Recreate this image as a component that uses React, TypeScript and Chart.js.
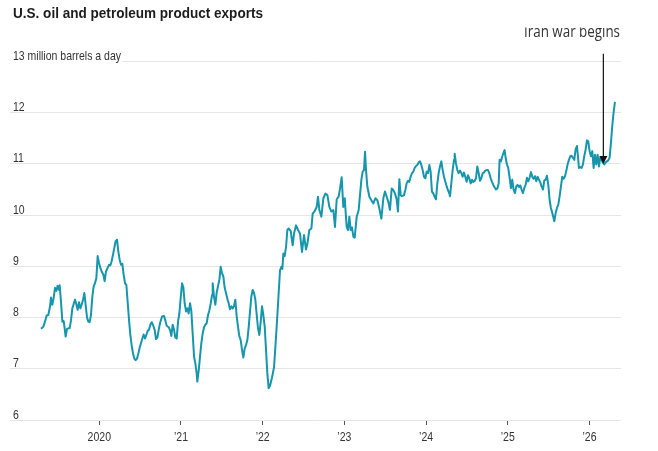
import React, { useEffect, useRef } from 'react';
import { Chart, registerables } from 'chart.js';

Chart.register(...registerables);

const chartTitle = 'U.S. oil and petroleum product exports';
const unitLabel = '13 million barrels a day';
const yTickValues = [6, 7, 8, 9, 10, 11, 12, 13];
const xTickYears = [2020, 2021, 2022, 2023, 2024, 2025, 2026];
const xTickLabels = ['2020', '\u201921', '\u201922', '\u201923', '\u201924', '\u201925', '\u201926'];
const annotationText = 'Iran war begins';
const annotationDate = 2026.17;
const annotationTipValue = 11.0;
const annotationTopValue = 13.15;
const xAxisMin = 2018.907;
const xAxisMax = 2026.386;

// weekly observations (decimal year)
const weekDates = [
  2019.286, 2019.315, 2019.335, 2019.356, 2019.376, 2019.397, 2019.409, 2019.425, 2019.441, 2019.458,
  2019.474, 2019.490, 2019.507, 2019.515, 2019.531, 2019.548, 2019.564, 2019.576, 2019.588, 2019.605,
  2019.621, 2019.637, 2019.654, 2019.670, 2019.686, 2019.703, 2019.719, 2019.735, 2019.752, 2019.768,
  2019.784, 2019.801, 2019.817, 2019.833, 2019.850, 2019.866, 2019.882, 2019.898, 2019.915, 2019.931,
  2019.947, 2019.964, 2019.980, 2019.996, 2020.013, 2020.029, 2020.049, 2020.066, 2020.082, 2020.102,
  2020.119, 2020.135, 2020.151, 2020.168, 2020.184, 2020.200, 2020.217, 2020.233, 2020.249, 2020.266,
  2020.282, 2020.298, 2020.315, 2020.331, 2020.347, 2020.364, 2020.380, 2020.396, 2020.413, 2020.429,
  2020.445, 2020.462, 2020.478, 2020.494, 2020.510, 2020.527, 2020.543, 2020.559, 2020.576, 2020.592,
  2020.608, 2020.625, 2020.641, 2020.657,
  2020.678, 2020.694, 2020.711, 2020.727, 2020.743, 2020.768, 2020.792, 2020.809, 2020.825, 2020.849,
  2020.866, 2020.882, 2020.898, 2020.915, 2020.931, 2020.947, 2020.964, 2020.980, 2020.996, 2021.013,
  2021.029, 2021.045, 2021.062, 2021.078, 2021.094, 2021.111, 2021.127, 2021.143, 2021.160, 2021.176,
  2021.192, 2021.200, 2021.217, 2021.233, 2021.249, 2021.266, 2021.282, 2021.298, 2021.315, 2021.331,
  2021.347, 2021.364, 2021.380, 2021.388, 2021.404, 2021.421, 2021.437, 2021.453, 2021.470, 2021.486,
  2021.502, 2021.519, 2021.535, 2021.551, 2021.568, 2021.584, 2021.600, 2021.617, 2021.633, 2021.649,
  2021.665, 2021.682, 2021.698, 2021.714, 2021.731, 2021.747, 2021.763, 2021.780, 2021.796, 2021.812,
  2021.829, 2021.845, 2021.861, 2021.878, 2021.894, 2021.910, 2021.927, 2021.943, 2021.959, 2021.976,
  2021.992, 2022.008, 2022.025, 2022.041, 2022.057, 2022.073,
  2022.090, 2022.114, 2022.139, 2022.163, 2022.188, 2022.212, 2022.229, 2022.241, 2022.253, 2022.269,
  2022.286, 2022.302, 2022.318, 2022.343, 2022.367, 2022.384, 2022.408, 2022.433, 2022.457, 2022.481,
  2022.506, 2022.530, 2022.547, 2022.571, 2022.596, 2022.612, 2022.637, 2022.661, 2022.677, 2022.694,
  2022.718, 2022.743, 2022.767, 2022.792, 2022.816, 2022.841, 2022.865, 2022.885, 2022.906, 2022.930,
  2022.947, 2022.967, 2022.987, 2023.004, 2023.028, 2023.045, 2023.061, 2023.077, 2023.093, 2023.110,
  2023.126, 2023.151, 2023.175, 2023.191, 2023.208, 2023.224, 2023.240, 2023.253, 2023.265, 2023.281,
  2023.306, 2023.330, 2023.355, 2023.379, 2023.404, 2023.428, 2023.453,
  2023.477, 2023.497, 2023.518, 2023.538, 2023.558, 2023.579, 2023.599, 2023.620, 2023.640, 2023.656,
  2023.673, 2023.689, 2023.705, 2023.730, 2023.746, 2023.762, 2023.779, 2023.795, 2023.811, 2023.828,
  2023.844, 2023.860, 2023.877, 2023.893, 2023.909, 2023.926, 2023.942, 2023.958, 2023.975, 2023.991,
  2024.007, 2024.024, 2024.040, 2024.056, 2024.072, 2024.089, 2024.105, 2024.121, 2024.138, 2024.154,
  2024.170, 2024.187, 2024.203, 2024.219, 2024.236, 2024.252, 2024.268, 2024.285, 2024.293, 2024.309,
  2024.325, 2024.342, 2024.350, 2024.366, 2024.383, 2024.399, 2024.415, 2024.432, 2024.448, 2024.464,
  2024.480, 2024.497, 2024.513, 2024.529, 2024.546, 2024.562, 2024.578, 2024.595, 2024.611, 2024.627,
  2024.644, 2024.660, 2024.676, 2024.693, 2024.709, 2024.725, 2024.742, 2024.758, 2024.774, 2024.791,
  2024.807, 2024.823, 2024.840, 2024.856, 2024.872, 2024.889,
  2024.900, 2024.916, 2024.933, 2024.949, 2024.961, 2024.974, 2024.990, 2025.006, 2025.023, 2025.039,
  2025.055, 2025.071, 2025.088, 2025.104, 2025.120, 2025.137, 2025.153, 2025.169, 2025.186, 2025.202,
  2025.218, 2025.235, 2025.251, 2025.267, 2025.284, 2025.300, 2025.316, 2025.333, 2025.349, 2025.365,
  2025.382, 2025.398, 2025.414, 2025.431, 2025.447, 2025.463, 2025.479, 2025.496, 2025.512, 2025.528,
  2025.545, 2025.561, 2025.569, 2025.586, 2025.602, 2025.618, 2025.635, 2025.651, 2025.667, 2025.683,
  2025.700, 2025.716, 2025.732, 2025.749, 2025.765, 2025.781, 2025.798, 2025.814, 2025.830, 2025.847,
  2025.859, 2025.871, 2025.887, 2025.904, 2025.920, 2025.936, 2025.953, 2025.969, 2025.985, 2026.002,
  2026.018, 2026.034, 2026.051, 2026.067, 2026.083, 2026.100, 2026.116, 2026.132, 2026.149, 2026.165,
  2026.181, 2026.198, 2026.214, 2026.230, 2026.246, 2026.263, 2026.279, 2026.295, 2026.312,
];

// million barrels a day
const exportsMbd = [
  7.78, 7.82, 7.92, 8.04, 8.05, 8.22, 8.39, 8.25, 8.38, 8.58,
  8.52, 8.62, 8.54, 8.63, 8.31, 7.92, 7.93, 7.79, 7.63, 7.78,
  7.79, 7.79, 7.95, 8.18, 8.26, 8.35, 8.26, 8.15, 8.30, 8.18,
  8.25, 8.35, 8.48, 8.25, 8.00, 7.92, 7.91, 8.05, 8.41, 8.61,
  8.67, 8.77, 9.20, 9.07, 8.97, 8.90, 8.84, 8.71, 8.90, 8.97,
  9.03, 9.02, 9.10, 9.23, 9.36, 9.49, 9.52, 9.29, 9.13, 9.03,
  9.05, 8.84, 8.67, 8.64, 8.31, 7.95, 7.66, 7.46, 7.30, 7.20,
  7.17, 7.20, 7.30, 7.41, 7.50, 7.59, 7.67, 7.59, 7.66, 7.74,
  7.76, 7.86, 7.91, 7.86,
  7.76, 7.58, 7.61, 7.76, 7.89, 8.02, 8.03, 7.94, 7.84, 7.81,
  7.76, 7.64, 7.86, 7.76, 7.61, 7.59, 7.92, 8.08, 8.38, 8.67,
  8.59, 8.28, 8.12, 8.18, 8.08, 8.28, 8.12, 7.69, 7.24, 7.10,
  6.91, 6.75, 6.97, 7.24, 7.50, 7.69, 7.81, 7.86, 7.89, 8.05,
  8.14, 8.28, 8.44, 8.67, 8.41, 8.25, 8.49, 8.61, 8.74, 8.99,
  8.87, 8.80, 8.58, 8.48, 8.36, 8.28, 8.16, 8.22, 8.18, 8.22,
  8.35, 8.02, 7.82, 7.64, 7.56, 7.37, 7.22, 7.40, 7.46, 7.56,
  7.82, 8.12, 8.41, 8.54, 8.48, 8.35, 8.05, 7.79, 7.66, 7.92,
  8.22, 8.05, 7.82, 7.37, 6.91, 6.62,
  6.67, 6.83, 7.03, 7.61, 8.27, 8.92, 8.99, 8.95, 9.25, 9.20,
  9.38, 9.71, 9.74, 9.69, 9.41, 9.64, 9.80, 9.71, 9.64, 9.28,
  9.61, 9.33, 9.44, 9.71, 9.74, 10.03, 10.08, 10.16, 10.36, 10.10,
  9.97, 10.33, 10.42, 10.39, 10.16, 10.07, 10.10, 9.77, 10.31, 10.36,
  10.52, 10.74, 10.16, 10.33, 9.77, 9.71, 9.97, 9.71, 9.76, 9.58,
  9.56, 9.97, 10.10, 10.39, 10.69, 10.85, 10.88, 11.24, 10.88, 10.56,
  10.36, 10.29, 10.23, 10.33, 10.29, 10.13, 9.93,
  10.33, 10.46, 10.36, 10.26, 10.10, 10.52, 10.49, 10.42, 10.31, 10.07,
  10.70, 10.39, 10.37, 10.39, 10.49, 10.62, 10.67, 10.65, 10.75, 10.82,
  10.85, 10.92, 10.96, 10.98, 11.03, 11.05, 10.98, 10.88, 10.75, 10.72,
  10.85, 10.82, 10.98, 10.85, 10.46, 10.42, 10.36, 10.31, 10.62, 10.82,
  10.95, 11.05, 10.88, 10.75, 10.65, 10.56, 10.49, 10.42, 10.37, 10.62,
  10.88, 11.08, 11.20, 11.01, 10.88, 10.82, 10.87, 10.82, 10.75, 10.83,
  10.75, 10.65, 10.78, 10.72, 10.62, 10.69, 10.65, 10.67, 10.72, 10.95,
  10.82, 10.67, 10.72, 10.82, 10.83, 10.87, 10.88, 10.88, 10.82, 10.72,
  10.65, 10.59, 10.54, 10.50, 10.52, 10.62,
  11.08, 11.05, 11.15, 11.22, 11.27, 11.12, 10.99, 10.92, 10.73, 10.53,
  10.69, 10.50, 10.43, 10.56, 10.59, 10.55, 10.58, 10.50, 10.43, 10.53,
  10.59, 10.73, 10.66, 10.73, 10.84, 10.75, 10.71, 10.76, 10.66, 10.75,
  10.69, 10.64, 10.56, 10.50, 10.68, 10.69, 10.77, 10.59, 10.30, 10.14,
  10.04, 9.94, 9.88, 10.04, 10.14, 10.20, 10.37, 10.56, 10.75, 10.71,
  10.76, 10.86, 10.99, 11.08, 11.15, 11.16, 11.12, 11.08, 11.28, 11.35,
  11.15, 10.92, 10.94, 10.92, 10.99, 11.15, 11.28, 11.46, 11.44, 11.25,
  11.15, 11.25, 10.92, 11.18, 10.99, 11.18, 10.95, 11.12, 11.08, 11.02,
  10.99, 11.03, 11.05, 11.07, 11.12, 11.41, 11.74, 12.00, 12.21,
];

const SANS = '"Liberation Sans", Arial, Helvetica, sans-serif';

function drawScaled(
  ctx: CanvasRenderingContext2D,
  text: string,
  x: number,
  y: number,
  font: string,
  color: string,
  scaleX: number,
  align: 'left' | 'right' | 'center',
) {
  ctx.save();
  ctx.font = font;
  ctx.fillStyle = color;
  ctx.textAlign = 'left';
  ctx.textBaseline = 'alphabetic';
  const w = ctx.measureText(text).width * scaleX;
  const left = align === 'left' ? x : align === 'right' ? x - w : x - w / 2;
  ctx.translate(left, y);
  ctx.scale(scaleX, 1);
  ctx.fillText(text, 0, 0);
  ctx.restore();
  return w;
}

function fitScale(ctx: CanvasRenderingContext2D, text: string, font: string, target: number) {
  ctx.save();
  ctx.font = font;
  const w = ctx.measureText(text).width;
  ctx.restore();
  return w > 0 ? target / w : 1;
}

const overlayPlugin = {
  id: 'overlay',
  afterDraw(chart: any) {
    const { ctx, scales, width } = chart;
    const xs = scales.x;
    const ys = scales.y;
    const labelFont = `13px ${SANS}`;
    const labelColor = '#333';
    const labelScale = fitScale(ctx, unitLabel, labelFont, 108);

    // title
    const titleFont = `bold 15px ${SANS}`;
    drawScaled(ctx, chartTitle, 13, 17.5, titleFont, '#1c1c1c', fitScale(ctx, chartTitle, titleFont, 250), 'left');

    // y labels above grid lines
    for (const v of yTickValues) {
      const py = ys.getPixelForValue(v);
      const txt = v === 13 ? unitLabel : String(v);
      if (v === 13) {
        ctx.save();
        ctx.fillStyle = '#ffffff';
        const w = 108;
        ctx.fillRect(xs.left - 2, py - 14, 13 + w + 1 - (xs.left - 2), 16);
        ctx.restore();
      }
      drawScaled(ctx, txt, 13, py - 1.5, labelFont, labelColor, labelScale, 'left');
    }

    // x labels
    xTickYears.forEach((yr, i) => {
      const px = xs.getPixelForValue(yr);
      drawScaled(ctx, xTickLabels[i], px, ys.bottom + 21, labelFont, labelColor, labelScale, 'center');
    });

    // annotation text (top slightly cropped as in source)
    const annFont = `16px "Open Sans", ${SANS}`;
    ctx.save();
    ctx.beginPath();
    ctx.rect(0, 27.5, width, 40);
    ctx.clip();
    drawScaled(ctx, annotationText, 620, 37, annFont, '#333', fitScale(ctx, annotationText, annFont, 96), 'right');
    ctx.restore();

    // arrow
    const ax = xs.getPixelForValue(annotationDate);
    const yTop = ys.getPixelForValue(annotationTopValue);
    const yTip = ys.getPixelForValue(annotationTipValue);
    ctx.save();
    ctx.strokeStyle = '#111';
    ctx.lineWidth = 1.2;
    ctx.beginPath();
    ctx.moveTo(ax, yTop);
    ctx.lineTo(ax, yTip - 6);
    ctx.stroke();
    ctx.fillStyle = '#111';
    ctx.beginPath();
    ctx.moveTo(ax - 4, yTip - 8);
    ctx.lineTo(ax + 4, yTip - 8);
    ctx.lineTo(ax, yTip);
    ctx.closePath();
    ctx.fill();
    ctx.restore();
  },
};

export default function App() {
  const canvasRef = useRef<HTMLCanvasElement | null>(null);

  useEffect(() => {
    document.body.style.margin = '0';
    document.body.style.background = '#ffffff';
    const canvas = canvasRef.current;
    if (!canvas) return;
    const n = Math.min(weekDates.length, exportsMbd.length);
    const points = [] as { x: number; y: number }[];
    for (let i = 0; i < n; i++) points.push({ x: weekDates[i], y: exportsMbd[i] });

    const chart = new Chart(canvas, {
      type: 'line',
      data: {
        datasets: [
          {
            data: points,
            borderColor: '#1596ad',
            borderWidth: 2,
            pointRadius: 0,
            tension: 0,
            fill: false,
            borderJoinStyle: 'round',
          },
        ],
      },
      options: {
        animation: false,
        responsive: false,
        maintainAspectRatio: false,
        devicePixelRatio: 1,
        layout: { padding: { left: 10, right: 37, top: 61.5, bottom: 26 } },
        plugins: {
          legend: { display: false },
          tooltip: { enabled: false },
          title: { display: false },
        },
        scales: {
          x: {
            type: 'linear',
            min: xAxisMin,
            max: xAxisMax,
            afterBuildTicks: (axis: any) => {
              axis.ticks = xTickYears.map((v) => ({ value: v }));
            },
            ticks: { display: false },
            grid: {
              display: true,
              drawOnChartArea: false,
              drawTicks: true,
              tickLength: 5,
              tickColor: '#555',
              tickWidth: 1,
            },
            border: { display: false },
          },
          y: {
            min: 6,
            max: 13,
            ticks: { display: false, stepSize: 1 },
            grid: { color: '#e6e6e6', lineWidth: 1, drawTicks: false },
            border: { display: false },
          },
        },
      },
      plugins: [overlayPlugin],
    } as any);

    return () => chart.destroy();
  }, []);

  return (
    <div style={{ width: 658, height: 451, position: 'relative' }}>
      <canvas ref={canvasRef} width={658} height={451} style={{ display: 'block', width: 658, height: 451 }} />
    </div>
  );
}
